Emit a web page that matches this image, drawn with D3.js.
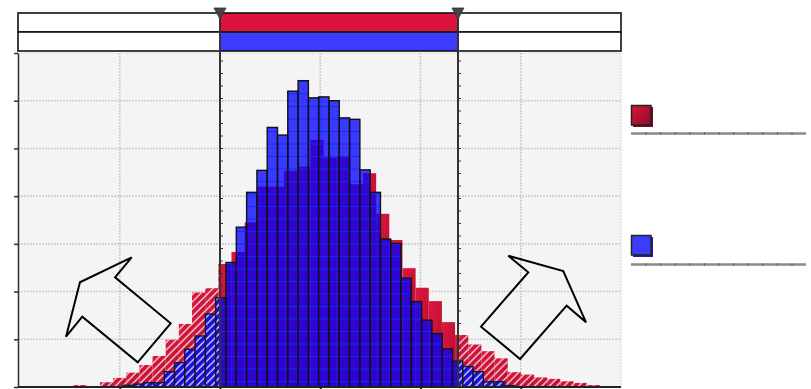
<!DOCTYPE html>
<html>
<head>
<meta charset="utf-8">
<script src="https://cdn.jsdelivr.net/npm/d3@7"></script>
<style>
  body { margin: 0; background: #fff; }
  svg { display: block; }
</style>
</head>
<body>
<div id="chart"></div>
<script>
// histogram bins: start of first bin + bin width, one value per bin
const redStart = -2.46;
const redStep = 0.1312;
const redValues = [0.4, 0, 1.0, 1.9, 3.0, 4.6, 6.5, 9.9, 13.2, 19.8, 20.7, 25.8, 28.3, 34.5,
  42.0, 42.0, 45.3, 46.2, 51.8, 48.1, 48.4, 42.5, 44.8, 36.3, 30.8, 24.9, 20.8, 18.0,
  13.6, 10.9, 8.9, 7.5, 6.0, 3.1, 2.6, 2.0, 1.7, 1.2, 0.85, 0.4];

const blueStart = -1.967;
const blueStep = 0.1027;
const blueValues = [0.35, 0.6, 0.9, 0.9, 3.2, 5.1, 7.9, 10.7, 15.3, 18.7, 26.1, 33.5, 40.8,
  45.4, 54.4, 52.8, 62.0, 64.2, 60.6, 60.8, 60.0, 56.4, 56.1, 45.5, 40.8, 31.0, 30.1,
  22.8, 17.9, 14.0, 11.2, 8.0, 5.4, 4.3, 3.2, 1.1, 1.1, 0.3];

// selected range
const rangeLo = -1;
const rangeHi = 1.374;

const xTicks = [-2, -1, 0, 1, 2];
const yTicks = [10, 20, 30, 40, 50, 60];

// decorative arrows, in data units
const leftArrow = [[-1.881, 27.18], [-2.397, 21.94], [-2.536, 10.54], [-2.374, 14.73],
  [-1.821, 5.18], [-1.492, 13.35], [-2.047, 22.99]];
const rightArrow = [[1.876, 27.52], [2.424, 24.31], [2.651, 13.56], [2.458, 17.04],
  [1.993, 5.87], [1.604, 12.64], [2.075, 24.04]];

const W = 811, H = 389;
const plot = { left: 18, right: 621, top: 53, bottom: 387 };

const x = d3.scaleLinear().domain([-3, 3]).range([19.5, 621]);
const y = d3.scaleLinear().domain([0, 70]).range([plot.bottom, plot.top]);

const svg = d3.select("#chart").append("svg")
  .attr("width", W).attr("height", H);

const defs = svg.append("defs");

const redGrad = defs.append("linearGradient").attr("id", "redGrad")
  .attr("x1", 0).attr("y1", 0).attr("x2", 1).attr("y2", 1);
redGrad.append("stop").attr("offset", "0%").attr("stop-color", "#e0173f");
redGrad.append("stop").attr("offset", "100%").attr("stop-color", "#b00e2e");

const legGrad = defs.append("linearGradient").attr("id", "legGrad")
  .attr("x1", 0).attr("y1", 0).attr("x2", 1).attr("y2", 1);
legGrad.append("stop").attr("offset", "0%").attr("stop-color", "#dc143c");
legGrad.append("stop").attr("offset", "100%").attr("stop-color", "#8e0a26");

const hatch = defs.append("pattern").attr("id", "hatch")
  .attr("patternUnits", "userSpaceOnUse")
  .attr("width", 5.2).attr("height", 5.2)
  .attr("patternTransform", "rotate(45)");
hatch.append("line").attr("x1", 1).attr("y1", 0).attr("x2", 1).attr("y2", 5.2)
  .attr("stroke", "#fff").attr("stroke-width", 1.1);

const blueFill = defs.append("pattern").attr("id", "blueFill")
  .attr("patternUnits", "userSpaceOnUse")
  .attr("x", 0).attr("y", 93.5)
  .attr("width", 10).attr("height", 12.5);
blueFill.append("rect").attr("width", 10).attr("height", 12.5)
  .attr("fill", "#0000ff").attr("fill-opacity", 0.76);
blueFill.append("line").attr("x1", 0).attr("x2", 10).attr("y1", 0.5).attr("y2", 0.5)
  .attr("stroke", "#1428ff").attr("stroke-width", 1);

const clipIn = defs.append("clipPath").attr("id", "clipIn");
clipIn.append("rect")
  .attr("x", x(rangeLo)).attr("y", plot.top)
  .attr("width", x(rangeHi) - x(rangeLo)).attr("height", plot.bottom - plot.top);
const clipOut = defs.append("clipPath").attr("id", "clipOut");
clipOut.append("rect")
  .attr("x", plot.left).attr("y", plot.top)
  .attr("width", x(rangeLo) - plot.left).attr("height", plot.bottom - plot.top);
clipOut.append("rect")
  .attr("x", x(rangeHi)).attr("y", plot.top)
  .attr("width", plot.right - x(rangeHi)).attr("height", plot.bottom - plot.top);

// plot background + grid
svg.append("rect")
  .attr("x", plot.left).attr("y", plot.top)
  .attr("width", plot.right - plot.left).attr("height", plot.bottom - plot.top)
  .attr("fill", "#f4f4f4")
  .attr("stroke", "#d4d4d4").attr("stroke-dasharray", "2,1");

const grid = svg.append("g").attr("stroke", "#cdcdcd").attr("stroke-width", 1.6)
  .attr("stroke-dasharray", "2,1");
grid.selectAll(".gx").data(xTicks).join("line")
  .attr("x1", d => x(d)).attr("x2", d => x(d))
  .attr("y1", plot.top).attr("y2", plot.bottom);
grid.selectAll(".gy").data(yTicks).join("line")
  .attr("x1", plot.left).attr("x2", plot.right)
  .attr("y1", d => y(d)).attr("y2", d => y(d));

function bins(start, step, values) {
  return values.map((v, i) => ({ x0: start + i * step, x1: start + (i + 1) * step, v }))
    .filter(d => d.v > 0);
}
const redBins = bins(redStart, redStep, redValues);
const blueBins = bins(blueStart, blueStep, blueValues);

function drawBars(g, data, fill, stroke) {
  g.selectAll(":scope > rect").data(data).join("rect")
    .attr("x", d => x(d.x0))
    .attr("width", d => x(d.x1) - x(d.x0))
    .attr("y", d => y(d.v))
    .attr("height", d => y(0) - y(d.v))
    .attr("fill", fill)
    .attr("stroke", stroke || "none")
    .attr("stroke-width", 1.4);
}

// red series: solid inside the range, hatched outside
const redIn = svg.append("g").attr("clip-path", "url(#clipIn)");
drawBars(redIn, redBins, "url(#redGrad)");
const redOut = svg.append("g").attr("clip-path", "url(#clipOut)");
drawBars(redOut, redBins, "url(#redGrad)");
drawBars(redOut.append("g"), redBins, "url(#hatch)");

// blue series
const blueIn = svg.append("g").attr("clip-path", "url(#clipIn)");
drawBars(blueIn, blueBins, "url(#blueFill)", "#111");
const blueOut = svg.append("g").attr("clip-path", "url(#clipOut)");
drawBars(blueOut, blueBins, "#1a10d8");
drawBars(blueOut.append("g"), blueBins, "url(#hatch)", "#14143a");

// arrows
const arrowLine = d3.line().x(d => x(d[0])).y(d => y(d[1]));
[leftArrow, rightArrow].forEach(pts => {
  svg.append("path")
    .attr("d", arrowLine(pts) + "Z")
    .attr("fill", "none").attr("stroke", "#000")
    .attr("stroke-width", 2).attr("stroke-linejoin", "miter");
});

// axes
svg.append("g")
  .attr("transform", `translate(${plot.left},0)`)
  .call(d3.axisLeft(y).tickValues([0, ...yTicks, 70]).tickSize(4).tickSizeOuter(0).tickFormat(""))
  .call(g => g.selectAll("path,line").attr("stroke", "#333").attr("stroke-width", 1.5));
svg.append("g")
  .attr("transform", `translate(0,${plot.bottom})`)
  .call(d3.axisBottom(x).tickValues(xTicks).tickSize(3).tickSizeOuter(0).tickFormat(""))
  .call(g => g.select("path").attr("d", `M${plot.left},0H${plot.right}`))
  .call(g => g.selectAll("path,line").attr("stroke", "#222").attr("stroke-width", 2));

// range selector strip
const strip = svg.append("g");
const rows = [{ y: 13, color: "#dc143c" }, { y: 32, color: "#3c3cff" }];
rows.forEach(r => {
  strip.append("rect")
    .attr("x", plot.left).attr("y", r.y)
    .attr("width", plot.right - plot.left).attr("height", 19)
    .attr("fill", "#fff");
  strip.append("rect")
    .attr("x", x(rangeLo)).attr("y", r.y)
    .attr("width", x(rangeHi) - x(rangeLo)).attr("height", 19)
    .attr("fill", r.color);
  strip.append("rect")
    .attr("x", plot.left).attr("y", r.y)
    .attr("width", plot.right - plot.left).attr("height", 19)
    .attr("fill", "none").attr("stroke", "#111").attr("stroke-width", 1.6);
});

// range handles
const tickYs = d3.range(61, plot.bottom, 12.5);
[rangeLo, rangeHi].forEach(v => {
  const hx = x(v);
  svg.append("line")
    .attr("x1", hx).attr("x2", hx).attr("y1", 13).attr("y2", plot.bottom)
    .attr("stroke", "#333").attr("stroke-width", 2);
  svg.append("g").selectAll("line").data(tickYs).join("line")
    .attr("x1", hx).attr("x2", hx + 3)
    .attr("y1", d => d).attr("y2", d => d)
    .attr("stroke", "#333").attr("stroke-width", 1);
  svg.append("path")
    .attr("d", `M${hx - 6},8L${hx + 6},8L${hx},19Z`)
    .attr("fill", "#444").attr("stroke", "#333").attr("stroke-width", 0.8);
});

// legend (no labels in the source)
const legend = [
  { y: 105, fill: "url(#legGrad)", shadow: "#7a0a20", lineY: 133.5 },
  { y: 235, fill: "#3c3cff", shadow: "#2020a0", lineY: 264.5 }
];
const lg = svg.append("g");
legend.forEach(l => {
  lg.append("rect").attr("x", 633).attr("y", l.y + 2).attr("width", 20).attr("height", 20)
    .attr("fill", l.shadow);
  lg.append("rect").attr("x", 631.5).attr("y", l.y + 0.5).attr("width", 19.5).attr("height", 19.5)
    .attr("fill", l.fill).attr("stroke", "#222").attr("stroke-width", 1.5);
  lg.append("line").attr("x1", 631).attr("x2", 806).attr("y1", l.lineY).attr("y2", l.lineY)
    .attr("stroke", "#8a8a8a").attr("stroke-width", 2.5);
  lg.append("g").selectAll("line").data(d3.range(646, 806, 14.6)).join("line")
    .attr("x1", d => d).attr("x2", d => d)
    .attr("y1", l.lineY - 1.2).attr("y2", l.lineY + 1.2)
    .attr("stroke", "#555").attr("stroke-width", 1);
});
</script>
</body>
</html>
